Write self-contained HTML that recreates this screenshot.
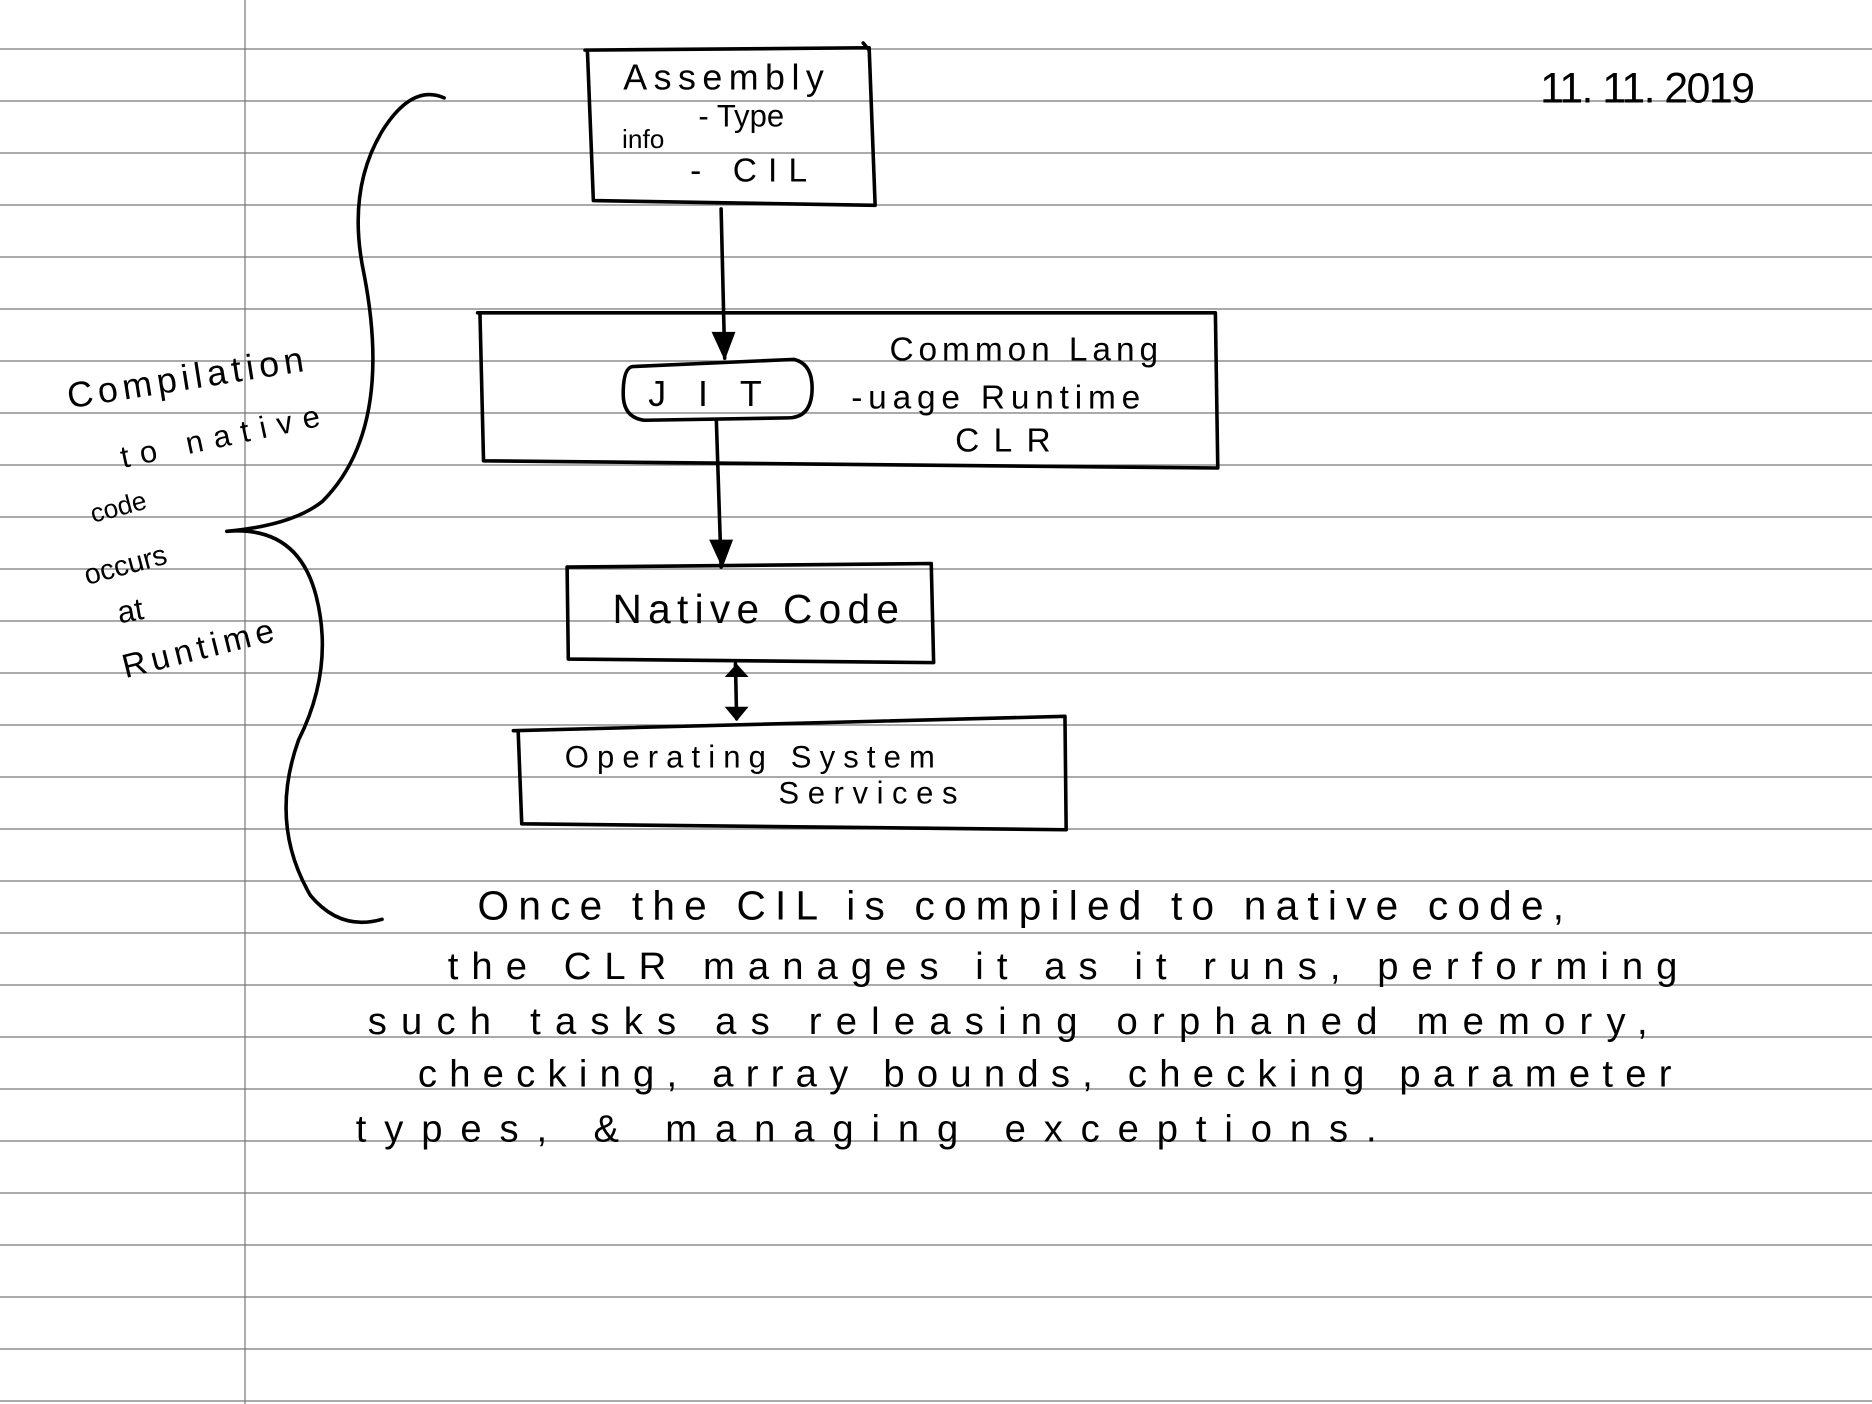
<!DOCTYPE html>
<html><head><meta charset="utf-8"><style>
html,body{margin:0;padding:0;background:#fff;}
svg{display:block}
text{font-family:"Liberation Sans",sans-serif;fill:#000;}
</style></head><body>
<svg width="1872" height="1404" viewBox="0 0 1872 1404" xmlns="http://www.w3.org/2000/svg">
<rect width="1872" height="1404" fill="#fff"/>
<g stroke="#777" stroke-width="1.2">
<line x1="0" y1="49" x2="1872" y2="49"/><line x1="0" y1="101" x2="1872" y2="101"/><line x1="0" y1="153" x2="1872" y2="153"/><line x1="0" y1="205" x2="1872" y2="205"/><line x1="0" y1="257" x2="1872" y2="257"/><line x1="0" y1="309" x2="1872" y2="309"/><line x1="0" y1="361" x2="1872" y2="361"/><line x1="0" y1="413" x2="1872" y2="413"/><line x1="0" y1="465" x2="1872" y2="465"/><line x1="0" y1="517" x2="1872" y2="517"/><line x1="0" y1="569" x2="1872" y2="569"/><line x1="0" y1="621" x2="1872" y2="621"/><line x1="0" y1="673" x2="1872" y2="673"/><line x1="0" y1="725" x2="1872" y2="725"/><line x1="0" y1="777" x2="1872" y2="777"/><line x1="0" y1="829" x2="1872" y2="829"/><line x1="0" y1="881" x2="1872" y2="881"/><line x1="0" y1="933" x2="1872" y2="933"/><line x1="0" y1="985" x2="1872" y2="985"/><line x1="0" y1="1037" x2="1872" y2="1037"/><line x1="0" y1="1089" x2="1872" y2="1089"/><line x1="0" y1="1141" x2="1872" y2="1141"/><line x1="0" y1="1193" x2="1872" y2="1193"/><line x1="0" y1="1245" x2="1872" y2="1245"/><line x1="0" y1="1297" x2="1872" y2="1297"/><line x1="0" y1="1349" x2="1872" y2="1349"/><line x1="0" y1="1401" x2="1872" y2="1401"/>
<line x1="245" y1="0" x2="245" y2="1404"/>
</g>
<g transform="scale(1.1939)">
<g fill="none" stroke="#000" stroke-width="3" stroke-linejoin="round" stroke-linecap="round">
<path d="M490 42 L728 40 L733 172 L497 168 L492 42 M723 36 L728 42"/>
<path d="M604 175 L607 300"/>
<path d="M400 262 L1018 262 L1020 392 L405 386 L402 262"/>
<path d="M530 307 L665 301 Q682 305 680 330 Q678 350 660 350 L540 352 Q522 350 522 330 Q522 308 530 307 Z"/>
<path d="M600 352 L604 475"/>
<path d="M475 475 L780 472 L782 555 L476 552 L475 475"/>
<path d="M616 556 L617 602"/>
<path d="M430 612 L892 600 L893 695 L437 690 L434 612"/>
<path d="M372 82 Q345 70 320 110 Q290 160 305 230 Q330 360 270 420 Q245 440 190 445 M190 445 Q250 440 265 500 Q280 560 250 620 Q225 690 260 750 Q285 780 320 770"/>
</g>
<g fill="#000">
<polygon points="596,278 616,278 607,302"/>
<polygon points="594,452 614,452 605,476"/>
<polygon points="607,567 627,567 617,556"/>
<polygon points="607,592 627,592 617,604"/>
</g>
<text x="522" y="75" font-size="30" textLength="168" lengthAdjust="spacing">Assembly</text>
<text x="585" y="106" font-size="26">- Type</text>
<text x="521" y="124" font-size="22">info</text>
<text x="578" y="152" font-size="28" textLength="98" lengthAdjust="spacing">- CIL</text>
<text x="543" y="340" font-size="30" textLength="95" lengthAdjust="spacing">JIT</text>
<text x="745" y="302" font-size="28" textLength="225" lengthAdjust="spacing">Common Lang</text>
<text x="713" y="342" font-size="28" textLength="242" lengthAdjust="spacing">-uage Runtime</text>
<text x="800" y="378" font-size="28" textLength="80" lengthAdjust="spacing">CLR</text>
<text x="513" y="522" font-size="34" textLength="240" lengthAdjust="spacing">Native Code</text>
<text x="473" y="643" font-size="26" textLength="310" lengthAdjust="spacing">Operating System</text>
<text x="652" y="673" font-size="26" textLength="150" lengthAdjust="spacing">Services</text>
<text x="1290" y="86" font-size="36" textLength="180" lengthAdjust="spacing">11. 11. 2019</text>
<text x="58" y="342" font-size="30" transform="rotate(-9 58 342)" textLength="200" lengthAdjust="spacing">Compilation</text>
<text x="103" y="392" font-size="26" transform="rotate(-12 103 392)" textLength="170" lengthAdjust="spacing">to native</text>
<text x="78" y="438" font-size="22" transform="rotate(-15 78 438)">code</text>
<text x="73" y="490" font-size="24" transform="rotate(-15 73 490)">occurs</text>
<text x="100" y="522" font-size="26" transform="rotate(-10 100 522)">at</text>
<text x="105" y="568" font-size="28" transform="rotate(-14 105 568)" textLength="130" lengthAdjust="spacing">Runtime</text>
<text x="400" y="770" font-size="34" textLength="910" lengthAdjust="spacing">Once the CIL is compiled to native code,</text>
<text x="375" y="820" font-size="32" textLength="1030" lengthAdjust="spacing">the CLR manages it as it runs, performing</text>
<text x="308" y="866" font-size="32" textLength="1072" lengthAdjust="spacing">such tasks as releasing orphaned memory,</text>
<text x="350" y="910" font-size="32" textLength="1050" lengthAdjust="spacing">checking, array bounds, checking parameter</text>
<text x="298" y="956" font-size="32" textLength="855" lengthAdjust="spacing">types, &amp; managing exceptions.</text>
</g>
</svg>
</body></html>
